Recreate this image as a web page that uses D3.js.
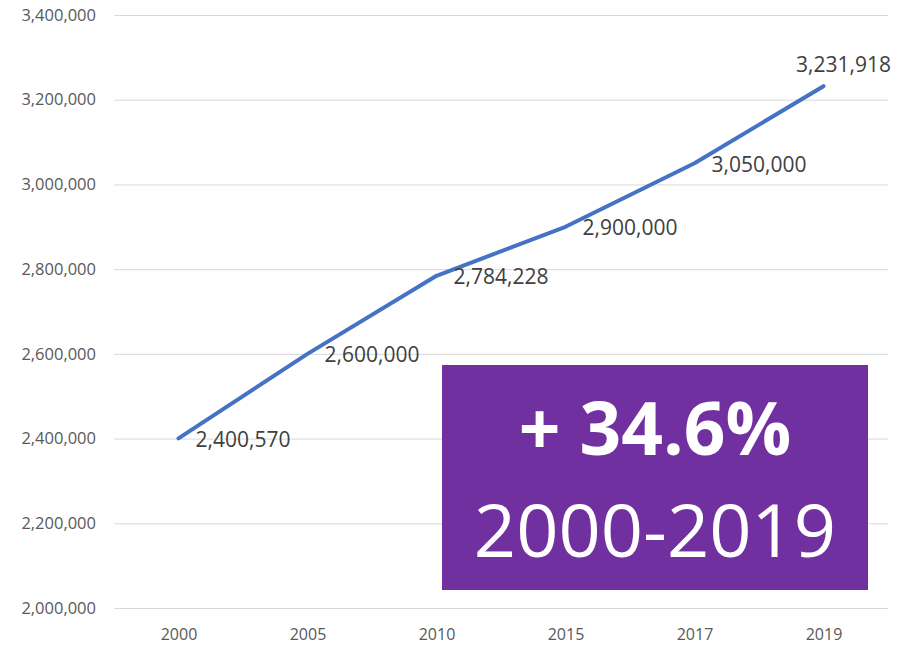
<!DOCTYPE html>
<html>
<head>
<meta charset="utf-8">
<script src="https://cdn.jsdelivr.net/npm/d3@7"></script>
<style>
  body { margin: 0; background: #fff; }
  text { font-family: "Open Sans", sans-serif; }
</style>
</head>
<body>
<div id="container"></div>
<script>
const years = ["2000", "2005", "2010", "2015", "2017", "2019"]
const population = [2400570, 2600000, 2784228, 2900000, 3050000, 3231918]
const yTicks = [2000000, 2200000, 2400000, 2600000, 2800000, 3000000, 3200000, 3400000]
const growthText = "+ 34.6%"
const periodText = "2000-2019"

const width = 913
const height = 645

const margin = {
    left: 114,
    top: 15,
    right: 25,
    bottom: 37,
};

const svg = d3.select('#container')
    .append('svg').attr('width', width).attr('height', height)

const x = d3.scalePoint()
    .domain(years)
    .range([margin.left, width - margin.right])
    .padding(0.5)

const y = d3.scaleLinear()
    .domain([2000000, 3400000])
    .range([height - margin.bottom, margin.top])

const fmt = d3.format(",")

// gridlines + y labels
const yAxis = svg.append('g')
    .attr('transform', 'translate(' + margin.left + ',0)')
    .call(d3.axisLeft(y).tickValues(yTicks).tickFormat(fmt)
        .tickSize(-(width - margin.left - margin.right)).tickPadding(18))
yAxis.select('.domain').remove()
yAxis.selectAll('line').attr('stroke', '#d9d9d9').attr('stroke-width', 1)
yAxis.selectAll('text')
    .attr('fill', '#595959')
    .style('font-size', '16.5px')
    .style('font-family', '"Open Sans", sans-serif')

// x labels
const xAxis = svg.append('g')
    .attr('transform', 'translate(0,' + (height - margin.bottom) + ')')
    .call(d3.axisBottom(x).tickSize(0).tickPadding(21))
xAxis.select('.domain').remove()
xAxis.selectAll('text')
    .attr('fill', '#595959')
    .style('font-size', '16px')
    .style('font-family', '"Open Sans", sans-serif')

// line
const line = d3.line()
    .x((d, i) => x(years[i]))
    .y(d => y(d))

svg.append('path')
    .datum(population)
    .attr('d', line)
    .attr('fill', 'none')
    .attr('stroke', '#4472C4')
    .attr('stroke-width', 4)
    .attr('stroke-linecap', 'round')
    .attr('stroke-linejoin', 'round')

// data labels (last one sits above the point)
const last = population.length - 1
svg.append('g').selectAll('text')
    .data(population)
    .join('text')
    .attr('x', (d, i) => i === last ? x(years[i]) + 20 : x(years[i]) + 17)
    .attr('y', (d, i) => i === last ? y(d) - 22 : y(d) + 1)
    .attr('dy', '0.35em')
    .attr('text-anchor', (d, i) => i === last ? 'middle' : 'start')
    .attr('fill', '#404040')
    .style('font-size', '21px')
    .text(d => fmt(d))

// purple callout
const box = svg.append('g')
box.append('rect')
    .attr('x', 442).attr('y', 365)
    .attr('width', 426).attr('height', 225)
    .attr('fill', '#7030A0')
box.append('text')
    .attr('x', 655).attr('y', 455)
    .attr('text-anchor', 'middle')
    .attr('fill', '#fff')
    .style('font-size', '73px')
    .style('font-weight', 'bold')
    .text(growthText)
box.append('text')
    .attr('x', 655).attr('y', 557)
    .attr('text-anchor', 'middle')
    .attr('fill', '#fff')
    .style('font-size', '74px')
    .text(periodText)
</script>
</body>
</html>
